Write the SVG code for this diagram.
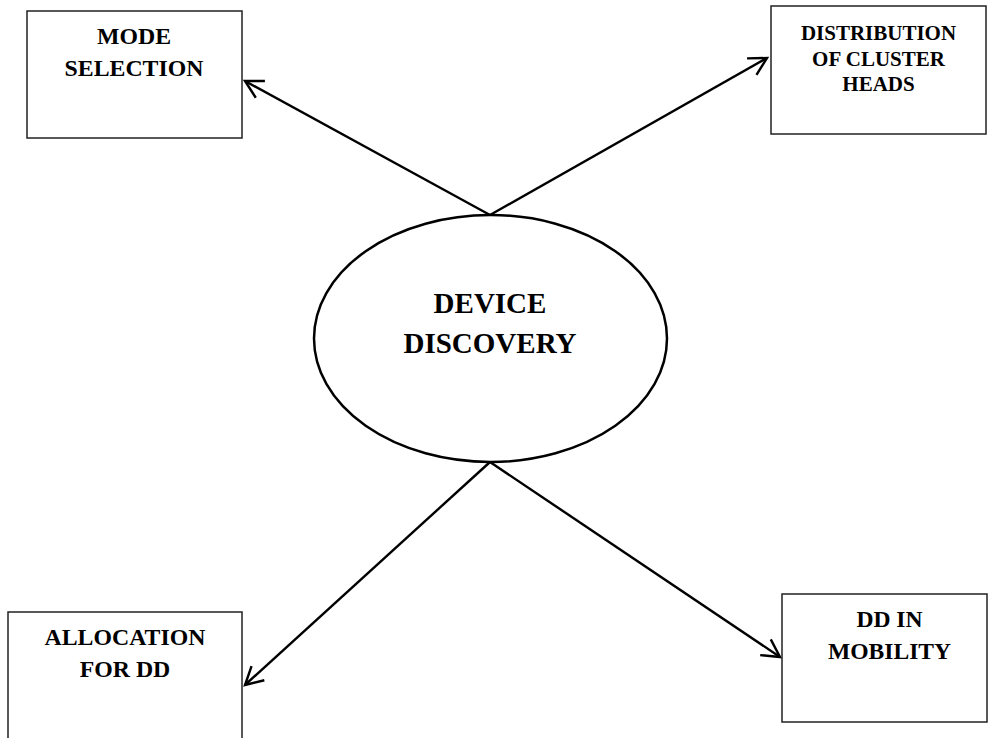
<svg xmlns="http://www.w3.org/2000/svg" width="988" height="738" viewBox="0 0 988 738">
<style>
.box{fill:#fff;stroke:#222;stroke-width:1.5}
.ell{fill:#fff;stroke:#000;stroke-width:2.5}
.t{font-family:"Liberation Serif","Times New Roman",serif;font-weight:bold;fill:#000;text-anchor:middle}
.c{stroke:#000;stroke-width:2.4;fill:none}
</style>
<defs>
<marker id="arr" markerUnits="userSpaceOnUse" markerWidth="24" markerHeight="24" viewBox="-20 -12 24 24" refX="0" refY="0" orient="auto">
<path d="M-17.5,-9.5 L0,0 L-17.5,9.5" fill="none" stroke="#000" stroke-width="2.4"/>
</marker>
</defs>
<rect width="988" height="738" fill="#fff"/>
<g id="connectors">
<line class="c" x1="490" y1="215" x2="245" y2="81" marker-end="url(#arr)"/>
<line class="c" x1="490" y1="215" x2="767" y2="58" marker-end="url(#arr)"/>
<line class="c" x1="490" y1="462" x2="245" y2="685" marker-end="url(#arr)"/>
<line class="c" x1="490" y1="462" x2="780" y2="657" marker-end="url(#arr)"/>
</g>
<g id="device-discovery">
<ellipse class="ell" cx="490.5" cy="338.5" rx="176.5" ry="123.5"/>
<text class="t" x="490" y="313" font-size="29">DEVICE</text>
<text class="t" x="490" y="353" font-size="29">DISCOVERY</text>
</g>
<g id="mode-selection">
<rect class="box" x="27" y="11" width="215" height="127"/>
<text class="t" x="134" y="44" font-size="23.8">MODE</text>
<text class="t" x="134" y="76" font-size="23.8">SELECTION</text>
</g>
<g id="distribution">
<rect class="box" x="771" y="6" width="215" height="128"/>
<text class="t" x="878.5" y="40" font-size="21">DISTRIBUTION</text>
<text class="t" x="878.5" y="65.5" font-size="21">OF CLUSTER</text>
<text class="t" x="878.5" y="91" font-size="21">HEADS</text>
</g>
<g id="allocation">
<rect class="box" x="8" y="612" width="234" height="130"/>
<text class="t" x="125" y="645" font-size="23.8">ALLOCATION</text>
<text class="t" x="125" y="677" font-size="23.8">FOR DD</text>
</g>
<g id="dd-mobility">
<rect class="box" x="782" y="594" width="205" height="128"/>
<text class="t" x="889.5" y="627" font-size="23.6">DD IN</text>
<text class="t" x="889.5" y="659" font-size="23.6">MOBILITY</text>
</g>
</svg>
